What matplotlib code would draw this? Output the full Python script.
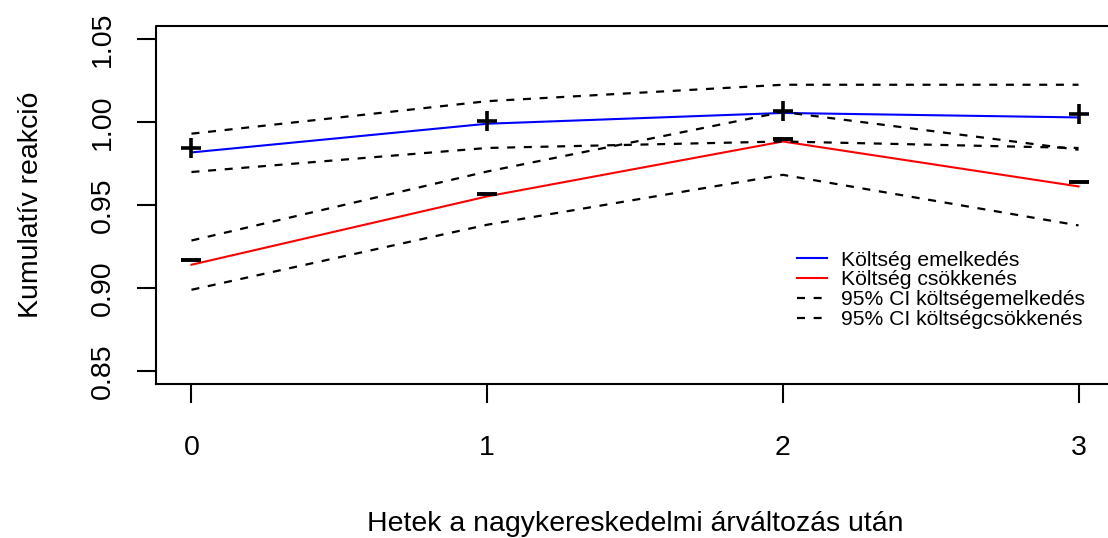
import matplotlib
matplotlib.use("Agg")
import matplotlib.pyplot as plt

plt.rcParams['font.family'] = ['Liberation Sans', 'DejaVu Sans']

weeks = [0, 1, 2, 3]
# point estimates
inc = [0.9816, 0.9989, 1.0054, 1.0027]
dec = [0.9139, 0.9551, 0.9882, 0.9611]
# 95% CI bands
inc_hi = [0.9929, 1.0125, 1.0224, 1.0224]
inc_lo = [0.9698, 0.9843, 0.9882, 0.9843]
dec_hi = [0.9285, 0.9701, 1.0060, 0.9832]
dec_lo = [0.8988, 0.9380, 0.9681, 0.9376]
# plotted "+" / "-" symbols
inc_pts = [0.9841, 1.0007, 1.0063, 1.0047]
dec_pts = [0.9165, 0.9567, 0.9899, 0.9635]

yticks = [0.85, 0.90, 0.95, 1.00, 1.05]

fig = plt.figure(figsize=(11.08, 5.38), dpi=100)
ax = fig.add_axes([156/1108, 154/538, 958/1108, 358.3/538])

dash = (0, (3.6, 3.9))
ax.plot(weeks, inc, color='blue', lw=1.5, label='Költség emelkedés')
ax.plot(weeks, dec, color='red', lw=1.5, label='Költség csökkenés')
ax.plot(weeks, inc_hi, color='black', lw=1.6, linestyle=dash, label='95% CI költségemelkedés')
ax.plot(weeks, inc_lo, color='black', lw=1.6, linestyle=dash)
ax.plot(weeks, dec_hi, color='black', lw=1.6, linestyle=dash, label='95% CI költségcsökkenés')
ax.plot(weeks, dec_lo, color='black', lw=1.6, linestyle=dash)

ax.plot(weeks, inc_pts, linestyle='none', marker='+', markersize=15, mew=2.6, color='black')
ax.plot(weeks, dec_pts, linestyle='none', marker='_', markersize=15, mew=2.8, color='black')

ax.set_xlim(-0.12, 3.12)
ax.set_ylim(0.842, 1.058)
ax.set_xticks(weeks)
ax.set_xticklabels([str(w) for w in weeks])
ax.set_yticks(yticks)
ax.set_yticklabels(['%.2f' % v for v in yticks], rotation=90, va='center')
ax.tick_params(axis='both', labelsize=20.5, length=14, width=1.5, direction='out')
ax.tick_params(axis='x', pad=22.5)
ax.tick_params(axis='y', pad=15)

for s in ['top', 'bottom', 'right', 'left']:
    ax.spines[s].set_visible(False)
# R style box
ax.plot([0, 0, 1, 1, 0], [0, 1, 1, 0, 0], transform=ax.transAxes, color='black', lw=1.5, clip_on=False)

ax.set_xlabel('Hetek a nagykereskedelmi árváltozás után', fontsize=20.5, labelpad=36)
ax.set_ylabel('Kumulatív reakció', fontsize=20.5, labelpad=33)

ax.legend(loc='upper left', bbox_to_anchor=(633/958, 0.396), frameon=False, fontsize=15.2,
          handlelength=1.42, handletextpad=0.66, labelspacing=0.04, borderaxespad=0)

fig.savefig('out.png', dpi=100)
